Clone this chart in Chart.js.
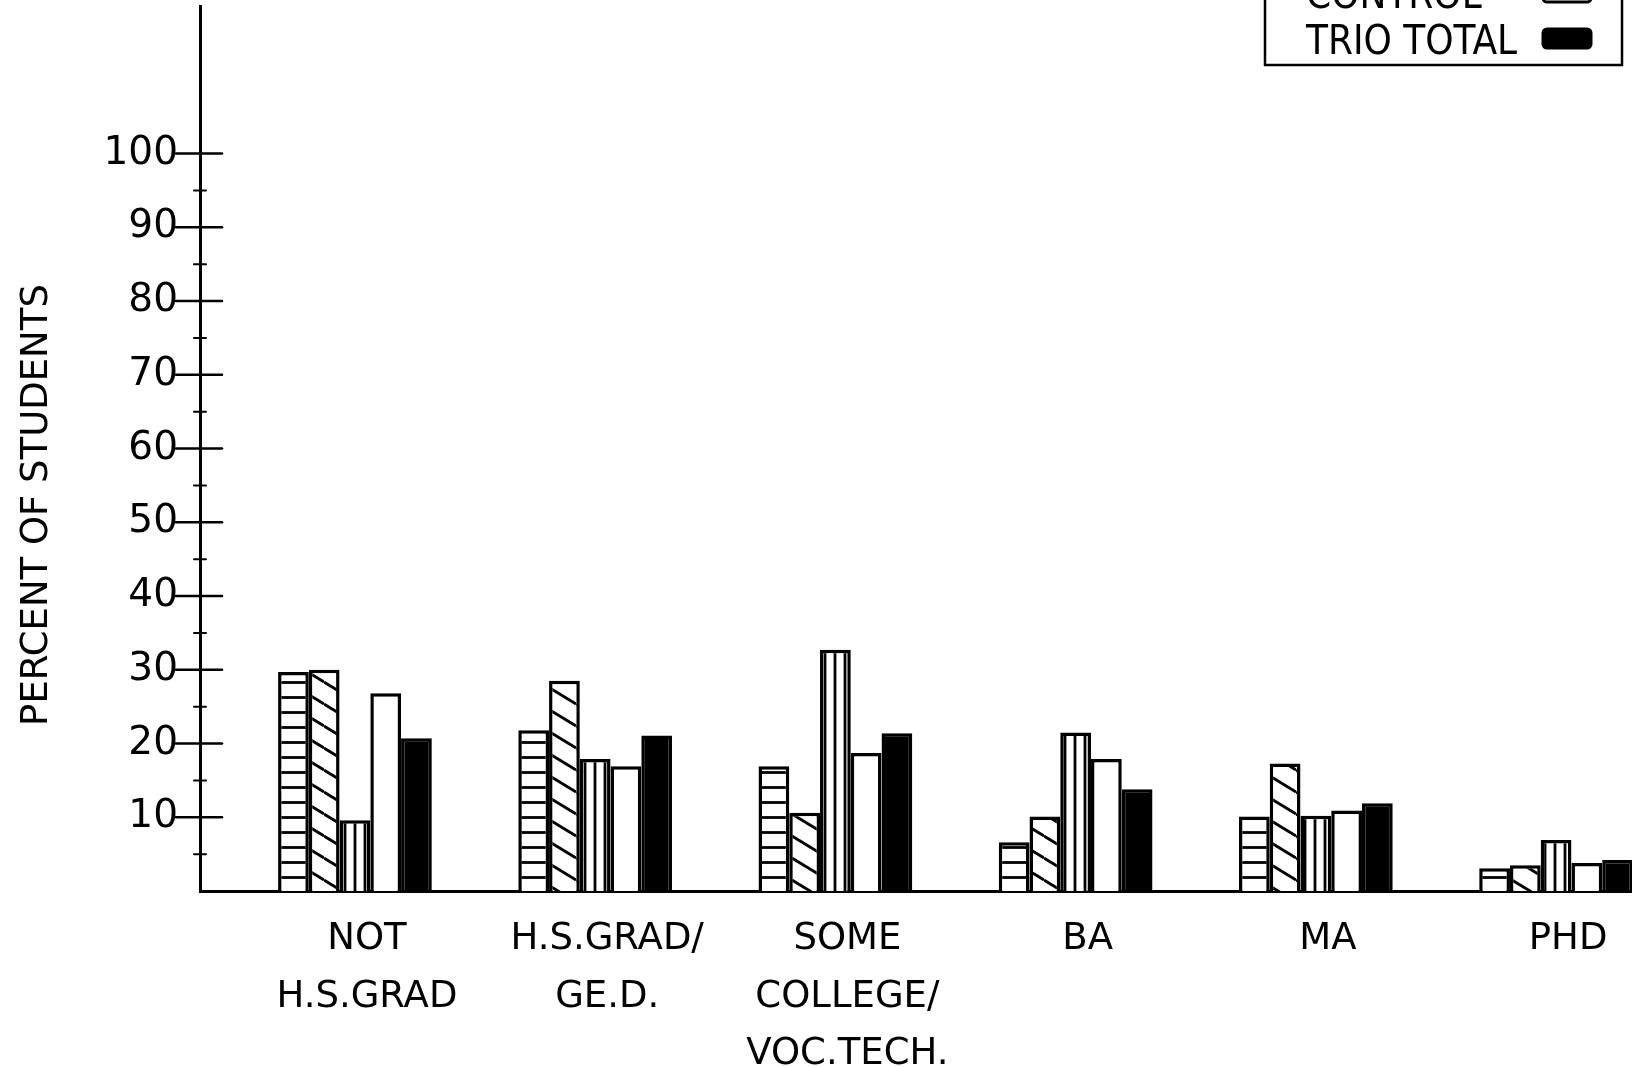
<!DOCTYPE html>
<html>
<head>
<meta charset="utf-8">
<title>Percent of students by education level</title>
<script src="https://cdn.jsdelivr.net/npm/chart.js@4.4.1/dist/chart.umd.min.js"></script>
<style>
  html, body { margin: 0; padding: 0; background: #fff; overflow: hidden; }
  #wrap { width: 1632px; height: 1067px; position: relative; }
</style>
</head>
<body>
<div id="wrap"><canvas id="eduChart"></canvas></div>
<script>
// ---- data ----
const categories = [
    ['NOT', 'H.S.GRAD'],
    ['H.S.GRAD/', 'GE.D.'],
    ['SOME', 'COLLEGE/', 'VOC.TECH.'],
    ['BA'],
    ['MA'],
    ['PHD']
];
const seriesNames = ['UPWARD BOUND', 'TALENT SEARCH', 'SPECIAL SERVICES', 'CONTROL', 'TRIO TOTAL'];
const upwardBound     = [29.7, 21.8, 16.9,  6.6, 10.1, 3.1];
const talentSearch    = [30.0, 28.5, 10.6, 10.1, 17.3, 3.5];
const specialServices = [ 9.6, 17.9, 32.7, 21.5, 10.2, 6.9];
const control         = [26.8, 16.9, 18.7, 17.9, 10.9, 3.8];
const trioTotal       = [20.7, 21.1, 21.4, 13.8, 11.9, 4.2];
const yTicks = [10, 20, 30, 40, 50, 60, 70, 80, 90, 100];

// hatch fills drawn on small tiles
function makePattern(kind) {
    const c = document.createElement('canvas');
    const g = c.getContext('2d');
    if (kind === 'horiz') { c.width = 8; c.height = 15; }
    else if (kind === 'vert') { c.width = 10; c.height = 8; }
    else { c.width = 36; c.height = 22; }
    g.fillStyle = '#fff';
    g.fillRect(0, 0, c.width, c.height);
    g.strokeStyle = '#000';
    g.lineWidth = 2.8;
    g.beginPath();
    if (kind === 'horiz') {
        g.moveTo(0, 7.5); g.lineTo(c.width, 7.5);
    } else if (kind === 'vert') {
        g.moveTo(5, 0); g.lineTo(5, c.height);
    } else {
        [-c.height, 0, c.height].forEach(off => {
            g.moveTo(0, off); g.lineTo(c.width, off + c.height);
        });
    }
    g.stroke();
    return g.createPattern(c, 'repeat');
}

const seriesValues = [upwardBound, talentSearch, specialServices, control, trioTotal];
const fills = [makePattern('horiz'), makePattern('diag'), makePattern('vert'), '#fff', '#000'];

const datasets = seriesValues.map((vals, k) => ({
    label: seriesNames[k],
    data: vals.map((v, i) => ({ x: i, y: v })),
    backgroundColor: fills[k],
    borderColor: '#000',
    borderWidth: 3.5,
    borderSkipped: 'bottom',
    categoryPercentage: 0.64,
    barPercentage: 1.0
}));

// axis ticks that cross the axis, rotated title, and the legend box in the corner
const decor = {
    id: 'decor',
    afterDraw(chart) {
        const { ctx, chartArea, scales } = chart;
        const left = chartArea.left;
        ctx.save();
        ctx.strokeStyle = '#000';
        ctx.fillStyle = '#000';
        ctx.lineCap = 'round';

        ctx.lineWidth = 2.5;
        yTicks.forEach(v => {
            const py = scales.y.getPixelForValue(v);
            ctx.beginPath(); ctx.moveTo(left - 24, py); ctx.lineTo(left + 22, py); ctx.stroke();
        });
        ctx.lineWidth = 2;
        yTicks.forEach(v => {
            const py = scales.y.getPixelForValue(v - 5);
            ctx.beginPath(); ctx.moveTo(left - 6, py); ctx.lineTo(left + 6, py); ctx.stroke();
        });

        // y title
        ctx.save();
        ctx.translate(37, 505);
        ctx.rotate(-Math.PI / 2);
        ctx.font = '37px "DejaVu Sans", sans-serif';
        ctx.textAlign = 'center';
        ctx.textBaseline = 'middle';
        ctx.fillText('PERCENT OF STUDENTS', 0, 0);
        ctx.restore();

        // legend (top rows run off the page, as in the scan)
        ctx.lineWidth = 2.5;
        ctx.strokeRect(1265, -200, 357, 265);
        ctx.font = '40px "Liberation Sans Narrow", "DejaVu Sans Condensed", sans-serif';
        ctx.textAlign = 'left';
        ctx.textBaseline = 'alphabetic';
        const n = chart.data.datasets.length;
        chart.data.datasets.forEach((ds, k) => {
            const base = 54 - (n - 1 - k) * 46;
            ctx.fillStyle = '#000';
            ctx.fillText(ds.label, 1306, base);
            ctx.beginPath();
            ctx.roundRect(1543, base - 25, 48, 19, 4);
            ctx.fillStyle = ds.backgroundColor;
            ctx.fill();
            ctx.lineWidth = 3;
            ctx.stroke();
        });
        ctx.restore();
    }
};

new Chart(document.getElementById('eduChart'), {
    type: 'bar',
    data: { datasets },
    options: {
        responsive: true,
        maintainAspectRatio: false,
        animation: false,
        layout: { padding: { top: 6, right: 0, bottom: 0, left: 0 } },
        plugins: {
            legend: { display: false },
            tooltip: { enabled: false }
        },
        scales: {
            x: {
                type: 'linear',
                min: -0.645,
                max: 5.316,
                offset: false,
                afterBuildTicks: s => { s.ticks = categories.map((_, i) => ({ value: i })); },
                afterFit: s => { s.height = 176; s.paddingLeft = 0; s.paddingRight = 0; },
                grid: { display: false, drawTicks: false, offset: false },
                border: { display: true, color: '#000', width: 3 },
                ticks: {
                    autoSkip: false,
                    maxRotation: 0,
                    padding: 20,
                    labelOffset: 12,
                    color: '#000',
                    font: { family: '"DejaVu Sans", sans-serif', size: 37, lineHeight: 1.55 },
                    callback: v => categories[v] || ''
                }
            },
            y: {
                min: 0,
                max: 120,
                afterBuildTicks: s => { s.ticks = yTicks.map(v => ({ value: v })); },
                afterFit: s => { s.width = 200; s.paddingTop = 0; s.paddingBottom = 0; },
                grid: { display: false, drawTicks: false },
                border: { display: true, color: '#000', width: 3 },
                ticks: {
                    padding: 22,
                    color: '#000',
                    font: { family: '"DejaVu Sans", sans-serif', size: 39 },
                    callback: v => (v > 0 && v <= 100 ? v : '')
                }
            }
        }
    },
    plugins: [decor]
});
</script>
</body>
</html>
